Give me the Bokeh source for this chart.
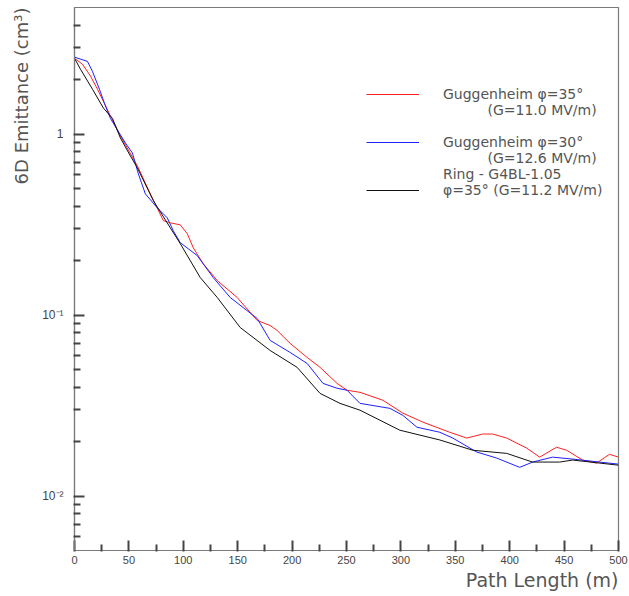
from bokeh.plotting import figure
from bokeh.models import (FixedTicker, CustomJSTickFormatter, Legend, LegendItem,
                          Title, Range1d)
from bokeh.embed import file_html
from bokeh.resources import INLINE

# ---- data ----
path_red = [0, 7.3, 14.7, 21.1, 33, 42.2, 57.8, 69.7, 81.7, 88.1,
            97.2, 103.7, 109.2, 118.3, 131.2, 149.5, 167.9, 179.8, 186.2, 198.2,
            213.8, 225.7, 241.3, 250.5, 262.4, 283.5, 301.8, 320.2, 344.9, 360.5,
            375.2, 384.4, 397.2, 415.6, 427.5, 443.1, 452.3, 467, 479.8, 491.7, 500]
emit_red = [2.62, 2.43, 2.09, 1.77, 1.26, 0.975, 0.667, 0.467, 0.332, 0.323,
            0.315, 0.281, 0.235, 0.192, 0.155, 0.125, 0.0933, 0.0875, 0.0822, 0.0697,
            0.0583, 0.0514, 0.0419, 0.0384, 0.0374, 0.0338, 0.0287, 0.0256, 0.0225, 0.0209,
            0.0220, 0.0220, 0.0209, 0.0184, 0.0164, 0.0186, 0.0179, 0.0158, 0.0152, 0.0170, 0.0164]

path_blue = [0, 11.9, 16.5, 22.9, 27.5, 33, 41.3, 46.8, 53.2, 58.7,
             65.1, 76.1, 85.3, 90.8, 97.2, 112.8, 127.5, 143.1, 167.9, 179.8,
             198.2, 213.8, 228.4, 241.3, 250.5, 262.4, 289.9, 301.8, 314.7, 335.8,
             347.7, 369.7, 388.1, 409.2, 421.1, 439.4, 457.8, 482.5, 500]
emit_blue = [2.66, 2.52, 2.22, 1.77, 1.48, 1.22, 1.01, 0.892, 0.786, 0.602,
             0.467, 0.391, 0.344, 0.292, 0.251, 0.213, 0.161, 0.125, 0.0957, 0.0724,
             0.0621, 0.0540, 0.0419, 0.0394, 0.0384, 0.0325, 0.0305, 0.0279, 0.0240, 0.0225,
             0.0209, 0.0175, 0.0162, 0.0144, 0.0154, 0.0164, 0.0160, 0.0154, 0.0150]

path_black = [0, 5.5, 16.5, 26.6, 34.9, 42.2, 51.4, 57.8, 72.5, 88.1,
              97.2, 115.6, 131.2, 152.3, 179.8, 204.6, 225.7, 244, 262.4, 299,
              335.8, 366, 397.2, 421, 445.9, 457.8, 500]
emit_black = [2.62, 2.28, 1.77, 1.39, 1.22, 0.95, 0.756, 0.65, 0.428, 0.303,
              0.248, 0.161, 0.125, 0.0853, 0.0637, 0.0514, 0.0369, 0.0325, 0.0298, 0.0231,
              0.0204, 0.0179, 0.0172, 0.0154, 0.0154, 0.0158, 0.0148]

x_major = [0, 50, 100, 150, 200, 250, 300, 350, 400, 450, 500]
x_minor = [25, 75, 125, 175, 225, 275, 325, 375, 425, 475]
y_major = [0.01, 0.1, 1]
y_minor = [0.006, 0.007, 0.008, 0.009,
           0.02, 0.03, 0.04, 0.05, 0.06, 0.07, 0.08, 0.09,
           0.2, 0.3, 0.4, 0.5, 0.6, 0.7, 0.8, 0.9,
           2, 3, 4]

legend_labels = ["Guggenheim \u03c6=35\u00b0", "(G=11.0 MV/m)",
                 "Guggenheim \u03c6=30\u00b0", "(G=12.6 MV/m)",
                 "Ring - G4BL-1.05", "\u03c6=35\u00b0 (G=11.2 MV/m)"]

X_MIN, X_MAX = 0, 500
Y_MIN, Y_MAX = 0.005, 5

W, H = 629, 596
BL, BR, BT, BB = 74, 11, 7, 46

p = figure(width=W, height=H, x_range=Range1d(X_MIN, X_MAX), y_range=Range1d(Y_MIN, Y_MAX),
           y_axis_type="log", output_backend="svg", toolbar_location=None,
           title_location=None,
           min_border_left=BL, min_border_right=BR, min_border_top=BT, min_border_bottom=BB)
p.xgrid.visible = False
p.ygrid.visible = False
p.outline_line_color = "#7a7a7a"
p.outline_line_width = 1.2

r_red = p.line(path_red, emit_red, line_color="#ff2020", line_width=1)
r_blue = p.line(path_blue, emit_blue, line_color="#2020ff", line_width=1)
r_black = p.line(path_black, emit_black, line_color="#101010", line_width=1)

for ax in (p.xaxis[0], p.yaxis[0]):
    ax.axis_line_color = "#7a7a7a"
    ax.axis_line_width = 1.2
    ax.major_tick_line_color = "#444444"
    ax.minor_tick_line_color = "#444444"
    ax.major_tick_line_width = 2
    ax.minor_tick_line_width = 2
    ax.major_tick_out = 1
    ax.minor_tick_out = 1
    ax.major_tick_in = 10
    ax.minor_tick_in = 6
    ax.major_label_text_font = "Liberation Sans"
    ax.major_label_text_font_size = "11px"
    ax.major_label_text_color = "#444444"

p.xaxis.ticker = FixedTicker(ticks=x_major, minor_ticks=x_minor)
p.xaxis.major_label_standoff = 4
p.yaxis.ticker = FixedTicker(ticks=y_major, minor_ticks=y_minor)
p.yaxis.major_label_standoff = 10
p.yaxis.formatter = CustomJSTickFormatter(code="""
if (tick > 0.5) { return '1'; }
if (tick > 0.05) { return '10\u207b\u00b9'; }
return '10\u207b\u00b2';
""")
p.yaxis.major_label_text_font_size = "12px"

ytitle = Title(text="6D Emittance (cm\u00b3)", align="right", text_font="DejaVu Sans",
               text_font_size="18px", text_font_style="normal", text_color="#555555",
               standoff=15)
p.add_layout(ytitle, "left")
xtitle = Title(text="Path Length (m)", align="right", text_font="DejaVu Sans",
               text_font_size="19px", text_font_style="normal", text_color="#555555",
               standoff=0)
p.add_layout(xtitle, "below")

nb = "\u00a0"
items = [
    LegendItem(label=legend_labels[0], renderers=[r_red]),
    LegendItem(label=nb * 10 + legend_labels[1], renderers=[]),
    LegendItem(label=nb, renderers=[]),
    LegendItem(label=legend_labels[2], renderers=[r_blue]),
    LegendItem(label=nb * 10 + legend_labels[3], renderers=[]),
    LegendItem(label=legend_labels[4], renderers=[]),
    LegendItem(label=legend_labels[5], renderers=[r_black]),
]
legend = Legend(items=items, location=(292, 352), border_line_color=None,
                background_fill_alpha=0, padding=0, margin=0, spacing=-2,
                glyph_width=53, glyph_height=14, label_height=14, label_standoff=24,
                label_text_font="DejaVu Sans", label_text_font_size="14px",
                label_text_color="#555555")
p.add_layout(legend, "center")

open("out.html", "w").write(file_html(p, INLINE))
